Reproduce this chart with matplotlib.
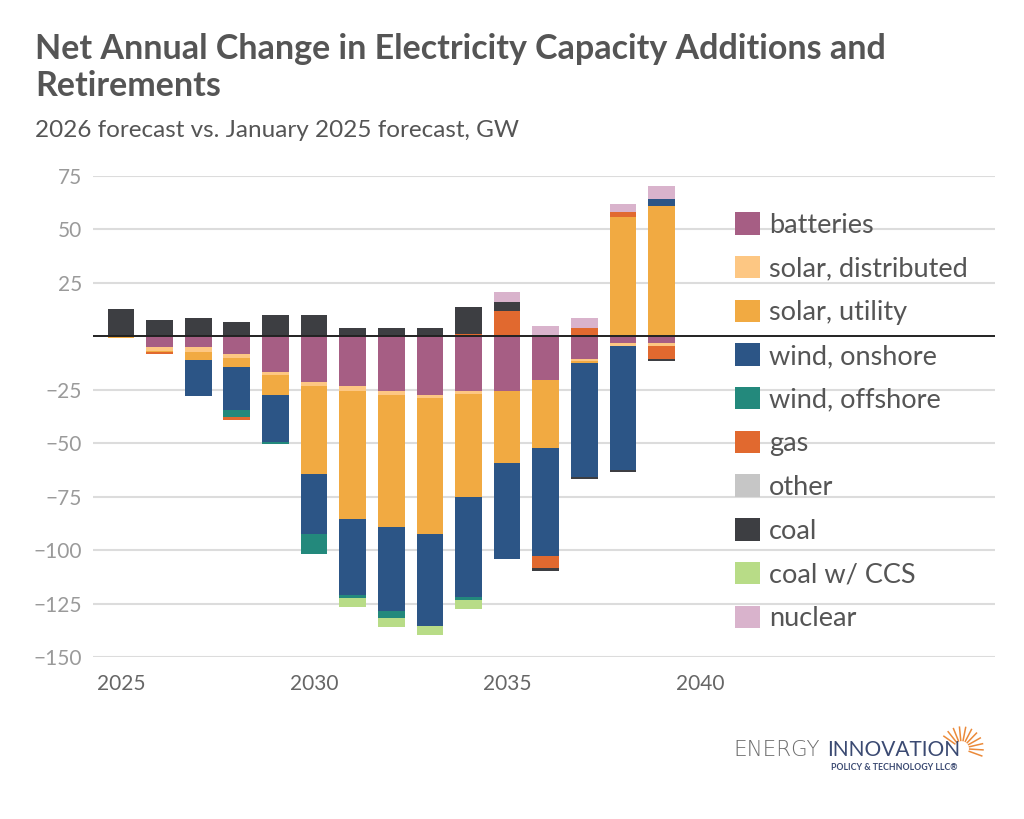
import numpy as np
import matplotlib
matplotlib.use("Agg")
import matplotlib.pyplot as plt
from matplotlib.patches import Patch

plt.rcParams['font.family'] = ['Lato', 'DejaVu Sans']

years = list(range(2025, 2040))

# GW (2026 forecast minus January 2025 forecast)
batteries = [0, -5.2, -5.1, -8.3, -16.6, -21.2, -23.3, -25.5, -27.5, -25.6, -25.6, -20.2, -10.6, -3.3, -3.3]
solar_dist = [0, -1.6, -2.4, -2.0, -1.7, -1.8, -2.2, -2.0, -1.5, -1.6, 0, 0, -1.0, -1.1, -1.1]
solar_util = [-0.8, -0.5, -3.5, -3.9, -9.0, -41.5, -60.1, -61.9, -63.5, -47.9, -33.8, -32.2, -0.8, 55.8, 61.0]
wind_on = [0, 0, -16.8, -20.3, -22.2, -28.0, -35.2, -39.2, -43.1, -46.6, -44.9, -50.4, -53.3, -58.1, 3.1]
wind_off = [0, 0, 0, -3.0, -1.0, -9.1, -1.6, -3.0, 0, -1.6, 0, 0, 0, 0, 0]
gas = [0, -1.0, 0, -1.7, 0, 0, 0, 0, 0, 1.3, 11.9, -5.8, 3.9, 2.2, -6.2]
other = [0] * 15
coal = [12.8, 7.7, 8.8, 6.9, 9.9, 9.9, 3.9, 3.9, 3.9, 12.5, 4.0, -1.1, -1.0, -0.8, -0.8]
coal_ccs = [0, 0, 0, 0, 0, 0, -4.2, -4.2, -4.1, -4.3, 0, 0, 0, 0, 0]
nuclear = [0, 0, 0, 0, 0, 0, 0, 0, 0, 0, 5.0, 4.7, 4.7, 3.9, 6.1]

labels = ['batteries', 'solar, distributed', 'solar, utility', 'wind, onshore',
          'wind, offshore', 'gas', 'other', 'coal', 'coal w/ CCS', 'nuclear']
series = [batteries, solar_dist, solar_util, wind_on, wind_off, gas, other,
          coal, coal_ccs, nuclear]
colors = ['#A65E84', '#FDC783', '#F1AA42', '#2C5586', '#23897C', '#E1692F',
          '#C6C6C6', '#3D3E42', '#B8DC87', '#D9B3CC']

fig = plt.figure(figsize=(10.24, 8.19), dpi=100)
ax = fig.add_axes([0.0908, 0.1978, 0.8809, 0.5873])

pos = np.zeros(len(years))
neg = np.zeros(len(years))
for vals, c in zip(series, colors):
    v = np.array(vals, dtype=float)
    bottom = np.where(v >= 0, pos, neg)
    ax.bar(years, v, width=0.69, bottom=bottom, color=c, linewidth=0, zorder=3)
    pos = pos + np.where(v > 0, v, 0)
    neg = neg + np.where(v < 0, v, 0)

ax.axhline(0, color='#222222', lw=1.4, zorder=4)
ax.set_xlim(2024.275, 2047.64)
ax.set_ylim(-150, 75)
ax.set_yticks([75, 50, 25, -25, -50, -75, -100, -125, -150])
ax.set_xticks([2025, 2030, 2035, 2040])
ax.grid(axis='y', color='#DCDCDC', lw=1.5, zorder=0)
ax.tick_params(length=0, labelsize=15, labelcolor='#9A9A9A', pad=8)
ax.tick_params(axis='x', pad=12, labelcolor='#666666')
for s in ax.spines.values():
    s.set_visible(False)

handles = [Patch(facecolor=c, edgecolor='none') for c in colors]
leg = ax.legend(handles, labels, loc='upper left', bbox_to_anchor=(0.712, 0.925),
                frameon=False, fontsize=19.5, handlelength=0.9, handleheight=0.9,
                handletextpad=0.35, labelspacing=0.67, borderaxespad=0, borderpad=0)
for t in leg.get_texts():
    t.set_color('#555555')

fig.text(0.034, 0.96, 'Net Annual Change in Electricity Capacity Additions and\nRetirements',
         fontsize=24.5, fontweight='bold', color='#555555', va='top', linespacing=1.2)
fig.text(0.034, 0.841, '2026 forecast vs. January 2025 forecast, GW', fontsize=17.5,
         color='#555555', va='center')

# logo
fig.text(0.801, 0.0846, 'ENERGY', fontsize=15.5, color='#6E6E6E', ha='right', va='center',
         family='DejaVu Sans', fontweight='light')
fig.text(0.808, 0.0846, 'INNOVATION', fontsize=15, color='#3B4A72', va='center')
fig.text(0.935, 0.0625, 'POLICY & TECHNOLOGY LLC\u00ae', fontsize=6.3, color='#3B4A72',
         fontweight='bold', ha='right', va='center')
cx, cy = 0.939, 0.086
for ang in np.linspace(-20, 145, 11):
    a = np.deg2rad(ang)
    r0, r1 = 0.008, 0.021
    fig.add_artist(plt.Line2D([cx + r0 * np.cos(a), cx + r1 * np.cos(a)],
                              [cy + r0 * np.sin(a) * 1.25, cy + r1 * np.sin(a) * 1.25],
                              color='#EB8A3A', lw=1.1))

fig.savefig('out.png', dpi=100)
